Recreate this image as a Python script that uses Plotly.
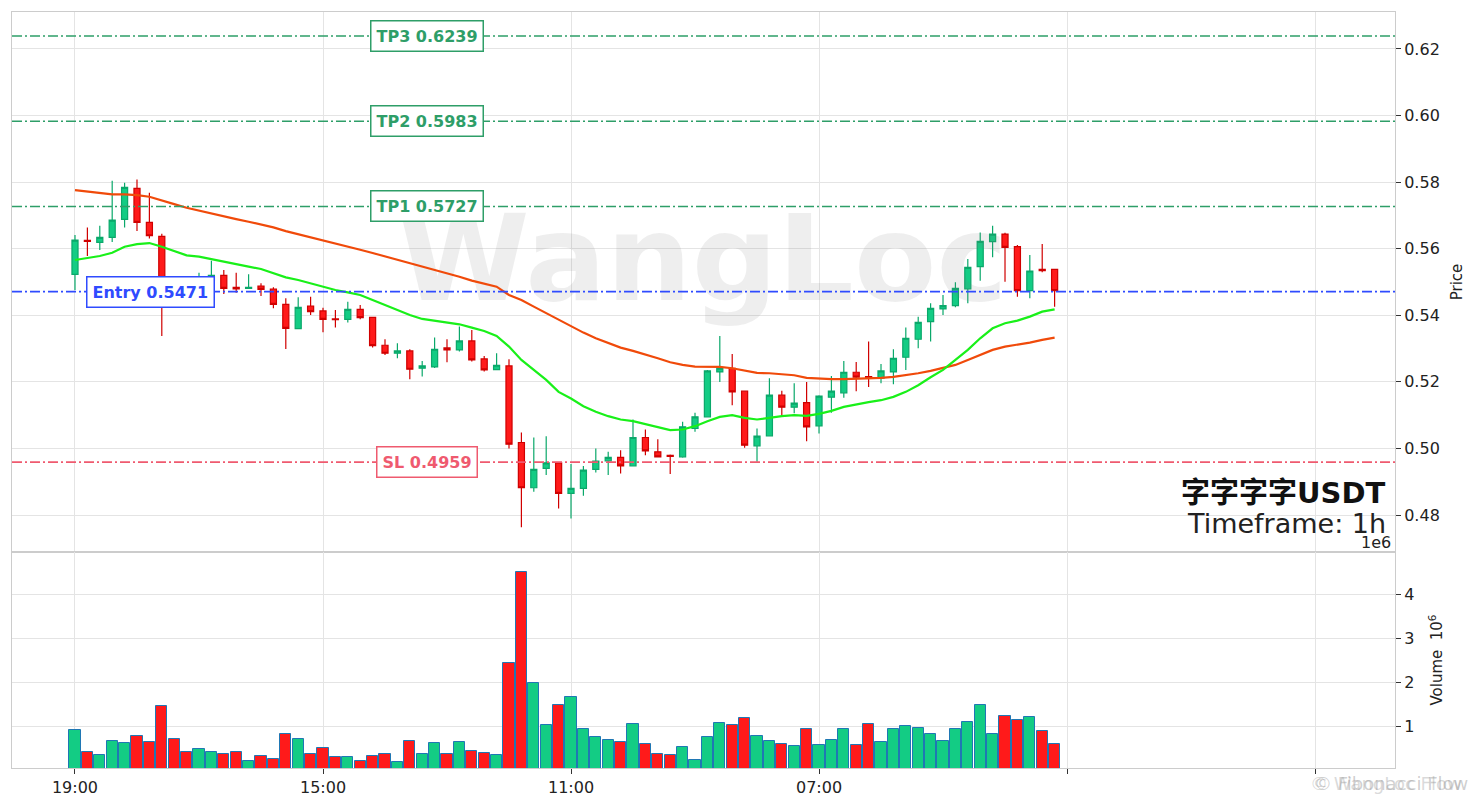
import plotly.graph_objects as go
from plotly.subplots import make_subplots

# ---------------- data ----------------
opens = [0.5523, 0.5625, 0.5619, 0.5634, 0.5688, 0.5781, 0.5679, 0.5637, 0.5510, 0.5492,
         0.5482, 0.5505, 0.5520, 0.5484, 0.5481, 0.5488, 0.5479, 0.5433, 0.5360, 0.5428,
         0.5413, 0.5389, 0.5388, 0.5418, 0.5394, 0.5310, 0.5286, 0.5293, 0.5241, 0.5245,
         0.5302, 0.5296, 0.5323, 0.5269, 0.5237, 0.5248, 0.5018, 0.4882, 0.4940, 0.4957,
         0.4865, 0.4880, 0.4937, 0.4963, 0.4973, 0.4948, 0.5033, 0.4990, 0.4979, 0.4975,
         0.5060, 0.5095, 0.5230, 0.5241, 0.5172, 0.5008, 0.5038, 0.5160, 0.5124, 0.5138,
         0.5068, 0.5154, 0.5167, 0.5229, 0.5216, 0.5211, 0.5230, 0.5274, 0.5328, 0.5381,
         0.5419, 0.5429, 0.5479, 0.5546, 0.5621, 0.5644, 0.5606, 0.5474, 0.5538, 0.5538]
highs = [0.5641, 0.5664, 0.5669, 0.5804, 0.5798, 0.5808, 0.5768, 0.5645, 0.5515, 0.5500,
         0.5528, 0.5564, 0.5536, 0.5528, 0.5523, 0.5496, 0.5484, 0.5451, 0.5454, 0.5456,
         0.5423, 0.5416, 0.5441, 0.5431, 0.5395, 0.5328, 0.5316, 0.5298, 0.5263, 0.5333,
         0.5328, 0.5366, 0.5356, 0.5278, 0.5286, 0.5268, 0.5048, 0.5033, 0.5037, 0.4957,
         0.4953, 0.4947, 0.5000, 0.4990, 0.4995, 0.5087, 0.5057, 0.5028, 0.4982, 0.5080,
         0.5107, 0.5236, 0.5338, 0.5284, 0.5174, 0.5060, 0.5211, 0.5173, 0.5196, 0.5200,
         0.5160, 0.5218, 0.5263, 0.5260, 0.5321, 0.5254, 0.5298, 0.5363, 0.5396, 0.5436,
         0.5461, 0.5499, 0.5569, 0.5649, 0.5669, 0.5648, 0.5611, 0.5581, 0.5614, 0.5540]
lows = [0.5476, 0.5578, 0.5596, 0.5620, 0.5664, 0.5653, 0.5631, 0.5338, 0.5470, 0.5465,
        0.5475, 0.5495, 0.5464, 0.5468, 0.5479, 0.5458, 0.5421, 0.5299, 0.5358, 0.5401,
        0.5349, 0.5363, 0.5378, 0.5388, 0.5303, 0.5281, 0.5271, 0.5208, 0.5216, 0.5242,
        0.5259, 0.5291, 0.5261, 0.5231, 0.5236, 0.5000, 0.4763, 0.4870, 0.4920, 0.4820,
        0.4790, 0.4858, 0.4928, 0.4920, 0.4925, 0.4946, 0.4980, 0.4973, 0.4923, 0.4972,
        0.5050, 0.5093, 0.5200, 0.5130, 0.5002, 0.4960, 0.5036, 0.5100, 0.5106, 0.5022,
        0.5045, 0.5107, 0.5152, 0.5172, 0.5185, 0.5196, 0.5193, 0.5236, 0.5301, 0.5321,
        0.5401, 0.5424, 0.5436, 0.5504, 0.5574, 0.5501, 0.5456, 0.5451, 0.5529, 0.5426]
closes = [0.5626, 0.5622, 0.5634, 0.5686, 0.5784, 0.5679, 0.5639, 0.5510, 0.5490, 0.5480,
          0.5515, 0.5520, 0.5481, 0.5479, 0.5484, 0.5478, 0.5433, 0.5361, 0.5424, 0.5411,
          0.5388, 0.5387, 0.5418, 0.5393, 0.5309, 0.5286, 0.5293, 0.5238, 0.5248, 0.5298,
          0.5296, 0.5323, 0.5266, 0.5236, 0.5250, 0.5013, 0.4882, 0.4937, 0.4957, 0.4865,
          0.4880, 0.4935, 0.4962, 0.4973, 0.4948, 0.5033, 0.4993, 0.4975, 0.4976, 0.5065,
          0.5095, 0.5233, 0.5241, 0.5170, 0.5010, 0.5037, 0.5160, 0.5124, 0.5136, 0.5065,
          0.5157, 0.5172, 0.5229, 0.5214, 0.5212, 0.5233, 0.5271, 0.5331, 0.5379, 0.5421,
          0.5429, 0.5481, 0.5544, 0.5622, 0.5644, 0.5604, 0.5474, 0.5533, 0.5534, 0.5474]
volumes_m = [0.909, 0.409, 0.341, 0.659, 0.614, 0.773, 0.636, 1.455, 0.705, 0.409,
             0.477, 0.409, 0.364, 0.409, 0.205, 0.318, 0.250, 0.818, 0.705, 0.364,
             0.500, 0.295, 0.295, 0.205, 0.318, 0.364, 0.182, 0.659, 0.364, 0.614,
             0.364, 0.636, 0.432, 0.386, 0.341, 2.432, 4.500, 1.977, 1.023, 1.477,
             1.659, 0.932, 0.750, 0.682, 0.636, 1.045, 0.591, 0.364, 0.341, 0.523,
             0.227, 0.750, 1.068, 1.023, 1.182, 0.773, 0.659, 0.591, 0.545, 0.932,
             0.568, 0.682, 0.932, 0.568, 1.045, 0.636, 0.932, 1.000, 0.955, 0.818,
             0.659, 0.932, 1.091, 1.477, 0.818, 1.227, 1.136, 1.205, 0.886, 0.591]
ema_fast = [0.5566, 0.5571, 0.5578, 0.5588, 0.5606, 0.5614, 0.5617, 0.5606, 0.5593, 0.5580,
            0.5576, 0.5568, 0.5560, 0.5553, 0.5546, 0.5539, 0.5526, 0.5514, 0.5506, 0.5496,
            0.5484, 0.5476, 0.5469, 0.5461, 0.5446, 0.5431, 0.5416, 0.5401, 0.5389, 0.5383,
            0.5378, 0.5373, 0.5363, 0.5353, 0.5338, 0.5306, 0.5266, 0.5236, 0.5206, 0.5170,
            0.5150, 0.5127, 0.5110, 0.5097, 0.5087, 0.5082, 0.5073, 0.5063, 0.5055, 0.5057,
            0.5067, 0.5082, 0.5095, 0.5100, 0.5092, 0.5087, 0.5093, 0.5097, 0.5100, 0.5098,
            0.5104, 0.5113, 0.5125, 0.5133, 0.5139, 0.5145, 0.5155, 0.5170, 0.5190, 0.5214,
            0.5236, 0.5266, 0.5296, 0.5331, 0.5361, 0.5376, 0.5384, 0.5396, 0.5411, 0.5418]
ema_slow = [0.5776, 0.5771, 0.5766, 0.5763, 0.5763, 0.5761, 0.5756, 0.5746, 0.5734, 0.5723,
            0.5714, 0.5706, 0.5698, 0.5689, 0.5681, 0.5673, 0.5664, 0.5653, 0.5644, 0.5635,
            0.5626, 0.5617, 0.5607, 0.5597, 0.5587, 0.5577, 0.5567, 0.5557, 0.5546, 0.5536,
            0.5526, 0.5516, 0.5504, 0.5495, 0.5486, 0.5461, 0.5446, 0.5426, 0.5406, 0.5386,
            0.5366, 0.5348, 0.5331, 0.5316, 0.5303, 0.5293, 0.5283, 0.5271, 0.5259, 0.5251,
            0.5246, 0.5245, 0.5245, 0.5241, 0.5233, 0.5227, 0.5226, 0.5223, 0.5220, 0.5212,
            0.5209, 0.5208, 0.5208, 0.5209, 0.5209, 0.5212, 0.5215, 0.5220, 0.5226, 0.5233,
            0.5241, 0.5251, 0.5266, 0.5281, 0.5296, 0.5306, 0.5311, 0.5318, 0.5326, 0.5333]
level_names = ["TP3", "TP2", "TP1", "Entry", "SL"]
level_values = [0.6239, 0.5983, 0.5727, 0.5471, 0.4959]
tick_positions = [0, 20, 40, 60]
tick_labels = ["19:00", "15:00", "11:00", "07:00"]
tick_step = 20
symbol_text = "字字字字USDT"
timeframe_text = "Timeframe: 1h"

# ---------------- styles ----------------
FONT = "DejaVu Sans, Noto Sans CJK SC, sans-serif"
UP_FILL, UP_LINE = "#13cc84", "#0aa86a"
DN_FILL, DN_LINE = "#ff1a1a", "#d00000"
GRID = "#e4e4e4"
level_colors = {"TP3": "#2e9e68", "TP2": "#2e9e68", "TP1": "#2e9e68",
                "Entry": "#2f4bff", "SL": "#ef5a6f"}
level_label_x = {"TP3": 28.4, "TP2": 28.4, "TP1": 28.4, "Entry": 6.05, "SL": 28.4}

idx = list(range(len(closes)))
vol_colors = [UP_FILL if c >= o else DN_FILL for o, c in zip(opens, closes)]

fig = make_subplots(rows=2, cols=1, shared_xaxes=True, vertical_spacing=0,
                    row_heights=[0.7143, 0.2857])

# watermark below everything
fig.add_trace(go.Scatter(x=[50.6], y=[0.5535], mode="text", text=["WangLoc"],
                         textfont=dict(family="DejaVu Sans", size=120, weight="bold",
                                       color="rgba(120,120,120,0.13)"),
                         hoverinfo="skip", showlegend=False), row=1, col=1)

fig.add_trace(go.Candlestick(x=idx, open=opens, high=highs, low=lows, close=closes,
                             increasing=dict(fillcolor=UP_FILL, line=dict(color=UP_LINE, width=1.2)),
                             decreasing=dict(fillcolor=DN_FILL, line=dict(color=DN_LINE, width=1.2)),
                             whiskerwidth=0, showlegend=False), row=1, col=1)

fig.add_trace(go.Scatter(x=idx, y=ema_slow, mode="lines",
                         line=dict(color="#f04a0a", width=2.2), showlegend=False), row=1, col=1)
fig.add_trace(go.Scatter(x=idx, y=ema_fast, mode="lines",
                         line=dict(color="#19f019", width=2.2), showlegend=False), row=1, col=1)

fig.add_trace(go.Bar(x=idx, y=volumes_m, width=0.9,
                     marker=dict(color=vol_colors, line=dict(color="#1f77b4", width=1)),
                     showlegend=False), row=2, col=1)

for name, val in zip(level_names, level_values):
    col = level_colors[name]
    fig.add_hline(y=val, line=dict(color=col, width=1.6, dash="10px,3px,2px,3px"), row=1, col=1)
    fig.add_annotation(x=level_label_x[name], y=val, xref="x", yref="y",
                       text=f"<b>{name} {val:.4f}</b>", showarrow=False,
                       font=dict(family=FONT, size=16, color=col),
                       bgcolor="white", bordercolor=col, borderwidth=1.5, borderpad=5)

# texts on the right
fig.add_annotation(x=0.995, y=0.364, xref="paper", yref="paper", xanchor="right", yanchor="middle",
                   text=f"<b>{symbol_text}</b>", showarrow=False,
                   font=dict(family=FONT, size=29, color="#111111"))
fig.add_annotation(x=0.995, y=0.324, xref="paper", yref="paper", xanchor="right", yanchor="middle",
                   text=timeframe_text, showarrow=False,
                   font=dict(family=FONT, size=27, color="#222222"))
fig.add_annotation(x=0.9986, y=0.298, xref="paper", yref="paper", xanchor="right", yanchor="middle",
                   text="1e6", showarrow=False, font=dict(family=FONT, size=16, color="#222222"))
# faint copyright marks bottom right
fig.add_annotation(x=1.054, y=-0.02, xref="paper", yref="paper", xanchor="right", yanchor="middle",
                   text="© Fibonacci Flow", showarrow=False,
                   font=dict(family=FONT, size=18, color="rgba(150,150,150,0.45)"))
fig.add_annotation(x=1.050, y=-0.02, xref="paper", yref="paper", xanchor="right", yanchor="middle",
                   text="© WangLoc Flow", showarrow=False,
                   font=dict(family=FONT, size=18, color="rgba(150,150,150,0.35)"))

axis_common = dict(showline=True, linecolor="#cccccc", linewidth=1, mirror=True,
                   gridcolor=GRID, gridwidth=1, zeroline=False,
                   tickfont=dict(family=FONT, size=16, color="#222222"),
                   ticks="outside", ticklen=5, tickcolor="#333333")

# labelled ticks as majors; unlabelled ticks/grid further right as minors
fig.update_xaxes(**axis_common, range=[-5.08, 106.45], tickmode="array",
                 tickvals=tick_positions, ticktext=tick_labels,
                 minor=dict(tick0=0, dtick=tick_step, ticks="outside", ticklen=5,
                            tickcolor="#333333", showgrid=True, gridcolor=GRID, gridwidth=1))
fig.update_xaxes(rangeslider_visible=False, showticklabels=False, ticks="",
                 minor=dict(ticks=""), row=1, col=1)

fig.update_yaxes(**axis_common, side="right")
fig.update_yaxes(range=[0.4689, 0.6311], tickmode="array",
                 tickvals=[0.48, 0.50, 0.52, 0.54, 0.56, 0.58, 0.60, 0.62],
                 tickformat=".2f",
                 title=dict(text="Price", font=dict(family=FONT, size=15, color="#222222"), standoff=12),
                 row=1, col=1)
fig.update_yaxes(range=[0.05, 4.96], tickmode="array", tickvals=[1, 2, 3, 4],
                 title=dict(text="Volume  10<sup>6</sup>", font=dict(family=FONT, size=15, color="#222222"),
                            standoff=18),
                 row=2, col=1)

# the page adds an 8px body margin, so the margins are reduced by 8px
fig.update_layout(width=1479, height=808, margin=dict(l=4, r=92, t=4, b=48),
                  paper_bgcolor="white", plot_bgcolor="white", showlegend=False,
                  font=dict(family=FONT), bargap=0)

fig.write_html("out.html")
